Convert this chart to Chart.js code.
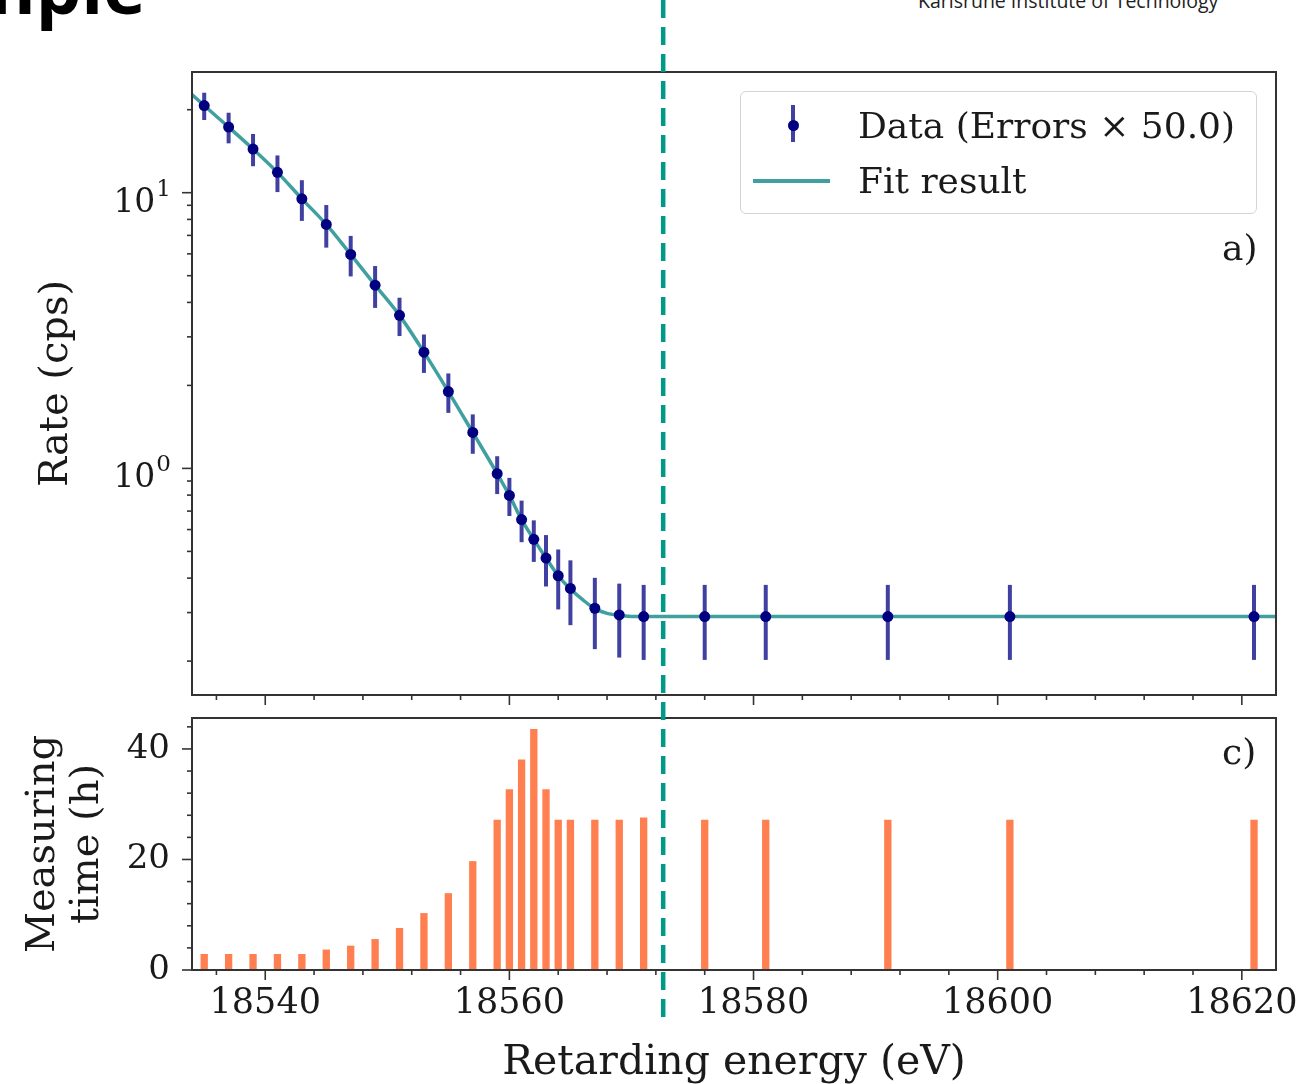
<!DOCTYPE html>
<html>
<head>
<meta charset="utf-8">
<script src="https://cdn.jsdelivr.net/npm/chart.js@4.4.1/dist/chart.umd.min.js"></script>
<style>
  body { margin: 0; background: #fff; width: 1303px; height: 1084px; overflow: hidden; position: relative; }
  #topWrap { position: absolute; left: 0; top: 0; width: 1303px; height: 712px; }
  #bottomWrap { position: absolute; left: 0; top: 712px; width: 1303px; height: 372px; }
  .slide-title { position: absolute; left: -35px; top: -50px; font: 700 72px 'Open Sans', sans-serif; line-height: 72px; color: #000; white-space: nowrap; }
  .kit { position: absolute; left: 918px; top: -8px; font: 19.5px 'Open Sans', sans-serif; line-height: 18px; color: #222; white-space: nowrap; }
  .legend { position: absolute; left: 740px; top: 91px; width: 515px; height: 121px; border: 1.5px solid #d4d4d4; border-radius: 6px; background: rgba(255,255,255,0.85); }
  .legend .txt { position: absolute; left: 117px; font: 36px 'DejaVu Serif', serif; line-height: 36px; color: #1a1a1a; white-space: nowrap; }
  .legend .ebar { position: absolute; left: 50px; top: 13px; width: 4px; height: 37px; background: rgba(0,0,128,0.75); }
  .legend .dot { position: absolute; left: 46.5px; top: 27.5px; width: 11px; height: 11px; border-radius: 50%; background: #000080; }
  .legend .fline { position: absolute; left: 12px; top: 87px; width: 77px; height: 3.5px; background: rgba(0,128,128,0.75); }
  .panel-label { position: absolute; font: 36px 'DejaVu Serif', serif; line-height: 36px; color: #1a1a1a; }
</style>
</head>
<body>
<div class="slide-title">mple</div>
<div class="kit">Karlsruhe Institute of Technology</div>
<div id="topWrap"><canvas id="rateChart" width="1303" height="712"></canvas></div>
<div id="bottomWrap"><canvas id="timeChart" width="1303" height="372"></canvas></div>
<div class="legend">
  <div class="ebar"></div><div class="dot"></div>
  <div class="txt" style="top:16px">Data (Errors × 50.0)</div>
  <div class="fline"></div>
  <div class="txt" style="top:71px">Fit result</div>
</div>
<div class="panel-label" style="left:1222px; top:230px">a)</div>
<div class="panel-label" style="left:1222px; top:734px">c)</div>

<script>
// retarding energies of the scan points (eV)
const energy = [18535, 18537, 18539, 18541, 18543, 18545, 18547, 18549, 18551, 18553,
  18555, 18557, 18559, 18560, 18561, 18562, 18563, 18564, 18565, 18567,
  18569, 18571, 18576, 18581, 18591, 18601, 18621];
// measured rate (cps)
const rate = [20.7, 17.3, 14.4, 11.85, 9.5, 7.67, 5.97, 4.62, 3.59, 2.64,
  1.90, 1.35, 0.957, 0.798, 0.652, 0.553, 0.473, 0.408, 0.367, 0.311,
  0.294, 0.290, 0.290, 0.290, 0.290, 0.290, 0.290];
// errors as drawn (already multiplied by 50)
const rateErrX50 = [2.35, 2.2, 1.93, 1.8, 1.6, 1.35, 1.0, 0.8, 0.57, 0.42,
  0.31, 0.22, 0.15, 0.126, 0.112, 0.095, 0.1, 0.1, 0.097, 0.09,
  0.088, 0.088, 0.088, 0.088, 0.088, 0.088, 0.088];
// fit curve
const fitEnergy = [18534, 18535, 18537, 18539, 18541, 18543, 18545, 18547, 18549, 18551,
  18553, 18555, 18557, 18559, 18560, 18561, 18562, 18563, 18564, 18565,
  18566, 18567, 18568, 18569, 18571, 18576, 18623];
const fitRate = [22.7, 20.7, 17.3, 14.4, 11.85, 9.5, 7.67, 5.97, 4.62, 3.59,
  2.64, 1.90, 1.35, 0.957, 0.798, 0.652, 0.553, 0.473, 0.408, 0.365,
  0.334, 0.310, 0.298, 0.293, 0.290, 0.290, 0.290];
// measuring time per point (h)
const hours = [2.9, 2.9, 2.9, 2.9, 2.9, 3.7, 4.4, 5.6, 7.6, 10.3,
  13.9, 19.7, 27.2, 32.7, 38.1, 43.6, 32.7, 27.2, 27.2, 27.2,
  27.2, 27.6, 27.2, 27.2, 27.2, 27.2, 27.2];

const energyTicks = [18540, 18560, 18580, 18600, 18620];
const rateTicks = [1, 10];
const rateTickBase = '10';
const rateTickExp = ['0', '1'];
const rateMinorTicks = [0.2, 0.3, 0.4, 0.5, 0.6, 0.7, 0.8, 0.9, 2, 3, 4, 5, 6, 7, 8, 9, 20];
const hourTicks = [0, 20, 40];
const markerEnergy = 18572.6;

const energyMin = 18534, energyMax = 18622.8;
const energyMinor = [];
for (let v = 18536; v < energyMax; v += 4) if (!energyTicks.includes(v)) energyMinor.push(v);
const hourMinor = [];
for (let v = 4; v < 46; v += 4) if (!hourTicks.includes(v)) hourMinor.push(v);

Chart.defaults.font.family = "'DejaVu Serif', serif";
Chart.defaults.color = '#1a1a1a';

const frameColor = '#333';

// keep the plot area where it is: no extra room for label overhang
const noOverhang = s => { s.paddingLeft = 0; s.paddingRight = 0; s.paddingTop = 0; s.paddingBottom = 0; };

// frame round the plot area plus major/minor tick marks
const axisDecor = {
  id: 'axisDecor',
  afterDatasetsDraw(chart, args, opts) {
    const { ctx, chartArea: a, scales } = chart;
    ctx.save();
    ctx.strokeStyle = frameColor;
    ctx.lineWidth = 1.6;
    const seg = (x1, y1, x2, y2) => { ctx.beginPath(); ctx.moveTo(x1, y1); ctx.lineTo(x2, y2); ctx.stroke(); };
    opts.xMajor.forEach(v => { const x = scales.x.getPixelForValue(v); seg(x, a.bottom, x, a.bottom + 10); });
    opts.xMinor.forEach(v => { const x = scales.x.getPixelForValue(v); seg(x, a.bottom, x, a.bottom + 5); });
    opts.yMajor.forEach(v => { const y = scales.y.getPixelForValue(v); seg(a.left - 10, y, a.left, y); });
    opts.yMinor.forEach(v => { const y = scales.y.getPixelForValue(v); seg(a.left - 5, y, a.left, y); });
    ctx.lineWidth = 2;
    ctx.strokeRect(a.left, a.top, a.width, a.height);
    ctx.restore();
  }
};

// 10^n labels of the log axis
const powerLabels = {
  id: 'powerLabels',
  afterDraw(chart) {
    const { ctx, chartArea: a, scales: { y } } = chart;
    const right = a.left - 21;
    ctx.save();
    ctx.fillStyle = '#1a1a1a';
    ctx.textAlign = 'right';
    ctx.textBaseline = 'alphabetic';
    rateTicks.forEach((v, i) => {
      const py = y.getPixelForValue(v);
      ctx.font = "23px 'DejaVu Serif'";
      ctx.fillText(rateTickExp[i], right, py + 3);
      const w = ctx.measureText(rateTickExp[i]).width;
      ctx.font = "33px 'DejaVu Serif'";
      ctx.fillText(rateTickBase, right - w - 1, py + 19);
    });
    ctx.restore();
  }
};

const errorBars = {
  id: 'errorBars',
  beforeDatasetDraw(chart, args) {
    if (args.index !== 0) return;
    const { ctx, scales: { x, y } } = chart;
    ctx.save();
    ctx.strokeStyle = 'rgba(0,0,128,0.75)';
    ctx.lineWidth = 4;
    energy.forEach((e, i) => {
      const px = x.getPixelForValue(e);
      ctx.beginPath();
      ctx.moveTo(px, y.getPixelForValue(rate[i] + rateErrX50[i]));
      ctx.lineTo(px, y.getPixelForValue(rate[i] - rateErrX50[i]));
      ctx.stroke();
    });
    ctx.restore();
  }
};

const markerLine = {
  id: 'markerLine',
  afterDraw(chart, args, opts) {
    const { ctx } = chart;
    const x = chart.scales.x.getPixelForValue(markerEnergy);
    ctx.save();
    ctx.strokeStyle = '#009988';
    ctx.lineWidth = 4.5;
    ctx.setLineDash([18, 9]);
    ctx.lineDashOffset = opts.offset;
    ctx.beginPath();
    ctx.moveTo(x, 0);
    ctx.lineTo(x, opts.bottom);
    ctx.stroke();
    ctx.restore();
  }
};

new Chart(document.getElementById('rateChart'), {
  type: 'line',
  data: {
    datasets: [
      {
        label: 'Data (Errors × 50.0)',
        data: energy.map((e, i) => ({ x: e, y: rate[i] })),
        showLine: false,
        pointRadius: 5.5,
        pointBackgroundColor: '#000080',
        pointBorderWidth: 0
      },
      {
        label: 'Fit result',
        data: fitEnergy.map((e, i) => ({ x: e, y: fitRate[i] })),
        borderColor: 'rgba(0,128,128,0.75)',
        borderWidth: 3.5,
        pointRadius: 0,
        cubicInterpolationMode: 'monotone'
      }
    ]
  },
  options: {
    responsive: false,
    animation: false,
    events: [],
    layout: { padding: { top: 72, right: 27, left: 0, bottom: 0 } },
    plugins: {
      legend: { display: false },
      tooltip: { enabled: false },
      axisDecor: { xMajor: energyTicks, xMinor: energyMinor, yMajor: rateTicks, yMinor: rateMinorTicks },
      markerLine: { offset: 0, bottom: 712 }
    },
    scales: {
      x: {
        type: 'linear', min: energyMin, max: energyMax,
        grid: { display: false }, border: { display: false },
        ticks: { display: false },
        afterFit: s => { noOverhang(s); s.height = 17; }
      },
      y: {
        type: 'logarithmic', min: 0.1507, max: 27.4,
        grid: { display: false }, border: { display: false },
        ticks: { autoSkip: false, font: { size: 31 }, callback: () => '' },
        title: { display: true, text: 'Rate (cps)', font: { size: 40, lineHeight: 1.2 }, padding: { top: 33, bottom: 0 } },
        afterFit: s => { noOverhang(s); s.width = 192; }
      }
    }
  },
  plugins: [errorBars, axisDecor, powerLabels, markerLine]
});

new Chart(document.getElementById('timeChart'), {
  type: 'bar',
  data: {
    datasets: [{
      label: 'Measuring time',
      data: energy.map((e, i) => ({ x: e, y: hours[i] })),
      backgroundColor: '#FF7F50',
      barPercentage: 0.6,
      categoryPercentage: 1.0
    }]
  },
  options: {
    responsive: false,
    animation: false,
    events: [],
    layout: { padding: { top: 6, right: 27, left: 0, bottom: 0 } },
    plugins: {
      legend: { display: false },
      tooltip: { enabled: false },
      axisDecor: { xMajor: energyTicks, xMinor: energyMinor, yMajor: hourTicks, yMinor: hourMinor },
      markerLine: { offset: 712, bottom: 310 }
    },
    scales: {
      x: {
        type: 'linear', min: energyMin, max: energyMax, offset: false,
        grid: { display: false }, border: { display: false },
        ticks: {
          stepSize: 20, includeBounds: false, autoSkip: false, maxRotation: 0,
          padding: 5, font: { size: 35 },
          callback: v => energyTicks.includes(v) ? String(v) : ''
        },
        title: { display: true, text: 'Retarding energy (eV)', font: { size: 41, lineHeight: 1.0 }, padding: { top: 0, bottom: 0 } },
        afterFit: s => { noOverhang(s); s.height = 114; }
      },
      y: {
        type: 'linear', min: 0, max: 45.6,
        grid: { display: false }, border: { display: false },
        ticks: {
          stepSize: 20, includeBounds: false, autoSkip: false,
          padding: 14, font: { size: 34 },
          callback: v => hourTicks.includes(v) ? String(v) : ''
        },
        title: { display: true, text: ['Measuring', 'time (h)'], font: { size: 40, lineHeight: 1.1 }, padding: { top: 22, bottom: 0 } },
        afterFit: s => { noOverhang(s); s.width = 192; }
      }
    }
  },
  plugins: [axisDecor, markerLine]
});
</script>
</body>
</html>
